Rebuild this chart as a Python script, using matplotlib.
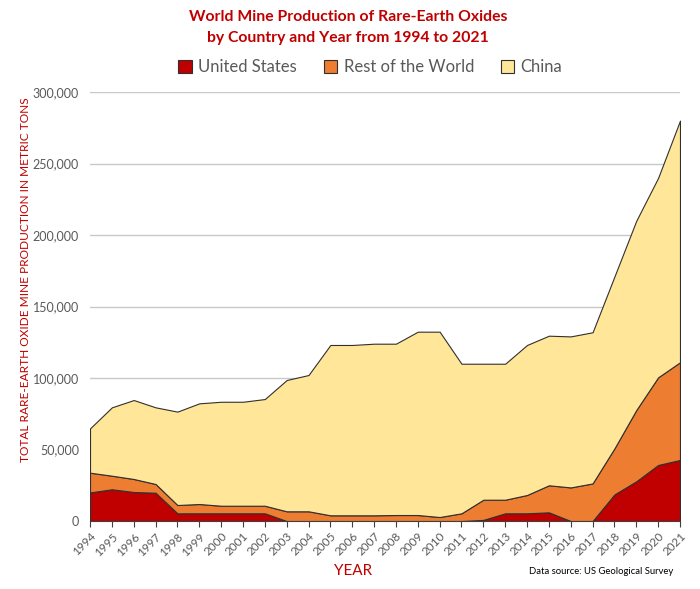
import numpy as np
import matplotlib
matplotlib.use("Agg")
import matplotlib.pyplot as plt
from matplotlib.patches import Patch
from matplotlib.ticker import FuncFormatter

# values (metric tons of REO)
years = list(range(1994, 2022))
united_states = [20000, 22200, 20300, 19800, 5400, 5400, 5400, 5400, 5400, 0,
                 0, 0, 0, 0, 0, 0, 0, 0, 800, 5400,
                 5400, 6100, 0, 0, 18600, 27800, 39200, 42700]
rest_of_world = [13800, 9500, 9100, 6100, 5800, 6500, 5300, 5300, 5300, 6800,
                 6800, 4000, 4000, 4000, 4200, 4200, 2800, 5400, 14100, 9500,
                 12800, 18900, 23500, 26300, 32200, 49800, 61300, 68300]
china = [31000, 47800, 55200, 53600, 65300, 70400, 72700, 72700, 74600, 91800,
         95300, 119100, 119100, 120000, 119800, 128200, 129600, 104600, 95100, 95100,
         104900, 104600, 105600, 105700, 120200, 132400, 139500, 169000]
series_names = ["United States", "Rest of the World", "China"]
colors = ["#C00000", "#ED7D31", "#FFE699"]

red = "#C00000"
grey = "#595959"
plt.rcParams['font.family'] = ['Lato', 'DejaVu Sans']

fig = plt.figure(figsize=(7, 5.89), dpi=100)
ax = fig.add_axes([0.1286, 0.1154, 0.8428, 0.7284])

ax.stackplot(years, united_states, rest_of_world, china, colors=colors,
             edgecolor="#303030", linewidth=0.8, zorder=3)

ax.set_xlim(1994, 2021)
ax.set_ylim(0, 300000)
ax.set_yticks(np.arange(0, 300001, 50000))
ax.yaxis.set_major_formatter(FuncFormatter(lambda v, p: f"{int(v):,}"))
ax.set_xticks(years)
ax.set_xticklabels([str(y) for y in years], rotation=45, ha="right",
                   rotation_mode="anchor", fontsize=8.5, color=grey)
ax.tick_params(axis="y", length=0, labelsize=9, colors=grey, pad=8)
ax.tick_params(axis="x", length=4, color="#404040", pad=3)
ax.grid(axis="y", color="#C8C8C8", linewidth=1, zorder=0)
ax.set_axisbelow(True)
for side in ["top", "right", "left"]:
    ax.spines[side].set_visible(False)
ax.spines["bottom"].set_color("#404040")
ax.spines["bottom"].set_zorder(4)

fig.text(0.037, 0.525, "TOTAL RARE-EARTH OXIDE MINE PRODUCTION IN METRIC TONS",
         rotation=90, ha="center", va="center", color=red, fontsize=8.6)
fig.text(0.504, 0.030, "YEAR", ha="center", va="center", color=red, fontsize=11)

fig.text(0.497, 0.983, "World Mine Production of Rare-Earth Oxides\nby Country and Year from 1994 to 2021",
         ha="center", va="top", color=red, fontsize=11.3, fontweight="bold",
         linespacing=1.65)

handles = [Patch(facecolor=c, edgecolor="#303030", linewidth=0.8) for c in colors]
fig.legend(handles, series_names, loc="center", bbox_to_anchor=(0.529, 0.886),
           ncol=3, frameon=False, fontsize=12, handlelength=0.8,
           handleheight=0.8, handletextpad=0.4, columnspacing=1.6,
           labelcolor=grey)

fig.text(0.962, 0.030, "Data source: US Geological Survey", ha="right",
         va="center", fontsize=6.8, color="black")

fig.savefig("out.png", dpi=100)
